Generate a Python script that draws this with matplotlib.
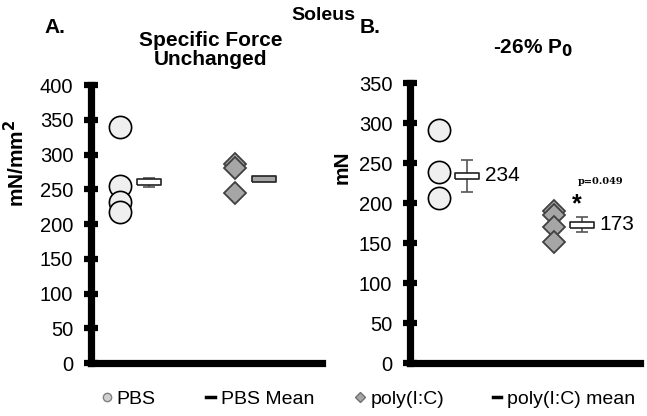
import matplotlib.pyplot as plt
from matplotlib.lines import Line2D

plt.rcParams['font.family'] = ['Liberation Sans', 'DejaVu Sans']

# Panel A: specific force (mN/mm^2)
a_pbs = [340, 255, 232, 217]
a_poly = [286, 280, 245]
a_means = [260, 265]
a_err = [6, 3]

# Panel B: absolute force (mN)
b_pbs = [291, 239, 206]
b_poly = [190, 185, 170, 151]
b_means = [234, 173]
b_err = [20, 9]

a_ticks = [0, 50, 100, 150, 200, 250, 300, 350, 400]
b_ticks = [0, 50, 100, 150, 200, 250, 300, 350]

circle_fc = '#efefef'
diamond_fc = '#a6a6a6'
diamond_ec = '#404040'
rect = [(-1, -0.25), (1, -0.25), (1, 0.25), (-1, 0.25), (-1, -0.25)]

fig = plt.figure(figsize=(6.47, 4.16), dpi=100)
ax_a = fig.add_axes([0.1406, 0.1274, 0.357, 0.668])
ax_b = fig.add_axes([0.6337, 0.1274, 0.355, 0.673])


def draw_panel(ax, pbs, poly, means, err, ticks, mean_fc):
    ax.plot([0.5] * len(pbs), pbs, 'o', ms=16, mfc=circle_fc, mec='black',
            mew=1.2, ls='none', zorder=3)
    ax.plot([2.5] * len(poly), poly, 'D', ms=11.5, mfc=diamond_fc,
            mec=diamond_ec, mew=1.3, ls='none', zorder=3)
    ax.errorbar([1, 3], means, yerr=err, fmt='none', ecolor='#555555',
                elinewidth=1.2, capsize=4, capthick=1.2, zorder=2)
    for x, m, fc in zip([1, 3], means, mean_fc):
        ax.plot([x], [m], marker=rect, ms=17, mfc=fc, mec='#222222',
                mew=1.2, ls='none', zorder=4)
    ax.set_xlim(0, 4)
    ax.set_ylim(0, ticks[-1])
    ax.set_yticks(ticks)
    ax.set_xticks([])
    for s in ['top', 'right']:
        ax.spines[s].set_visible(False)
    for s in ['left', 'bottom']:
        ax.spines[s].set_linewidth(5.2)
        ax.spines[s].set_capstyle('projecting')
    ax.tick_params(axis='y', direction='inout', length=9.5, width=4.5,
                   labelsize=14.5, pad=8, colors='black')


draw_panel(ax_a, a_pbs, a_poly, a_means, a_err, a_ticks, ['white', '#a6a6a6'])
draw_panel(ax_b, b_pbs, b_poly, b_means, b_err, b_ticks, ['white', 'white'])

ax_a.set_ylabel('mN/mm$^\\mathbf{2}$', fontsize=15, fontweight='bold')
ax_a.yaxis.set_label_coords(-0.27, 0.72)
ax_b.set_ylabel('mN', fontsize=15, fontweight='bold')
ax_b.yaxis.set_label_coords(-0.255, 0.70)

ax_b.text(1.3, b_means[0], str(b_means[0]), fontsize=15, va='center')
ax_b.text(3.3, b_means[1], str(b_means[1]), fontsize=15, va='center')
ax_b.text(2.9, 198, '*', fontsize=18, fontweight='bold', ha='center', va='center')
ax_b.text(3.32, 227, 'p=0.049', fontsize=7, fontweight='bold', family='serif',
          ha='center', va='center')

fig.text(0.5, 0.963, 'Soleus', ha='center', va='center', fontsize=14, fontweight='bold')
fig.text(0.068, 0.933, 'A.', ha='left', va='center', fontsize=15, fontweight='bold')
fig.text(0.556, 0.933, 'B.', ha='left', va='center', fontsize=15, fontweight='bold')
fig.text(0.325, 0.879, 'Specific Force\nUnchanged', ha='center', va='center',
         fontsize=15, fontweight='bold', linespacing=1.0)
fig.text(0.824, 0.885, '-26% P$_\\mathbf{0}$', ha='center', va='center',
         fontsize=15, fontweight='bold')

# legends under each panel
h_pbs = Line2D([], [], marker='o', ms=6, mfc='#d0d0d0', mec='#808080', ls='none')
h_mean = Line2D([], [], color='black', lw=2.5)
h_poly = Line2D([], [], marker='D', ms=5.5, mfc=diamond_fc, mec='#707070', ls='none')

leg_kw = dict(ncol=2, frameon=False, fontsize=14, handlelength=0.45,
              handletextpad=0.3, loc='center')
fig.legend([h_pbs, h_mean], ['PBS', 'PBS Mean'], columnspacing=2.6,
           bbox_to_anchor=(0.322, 0.04), **leg_kw)
fig.legend([h_poly, h_mean], ['poly(I:C)', 'poly(I:C) mean'], columnspacing=2.5,
           bbox_to_anchor=(0.766, 0.04), **leg_kw)

fig.savefig('out.png', dpi=100)
